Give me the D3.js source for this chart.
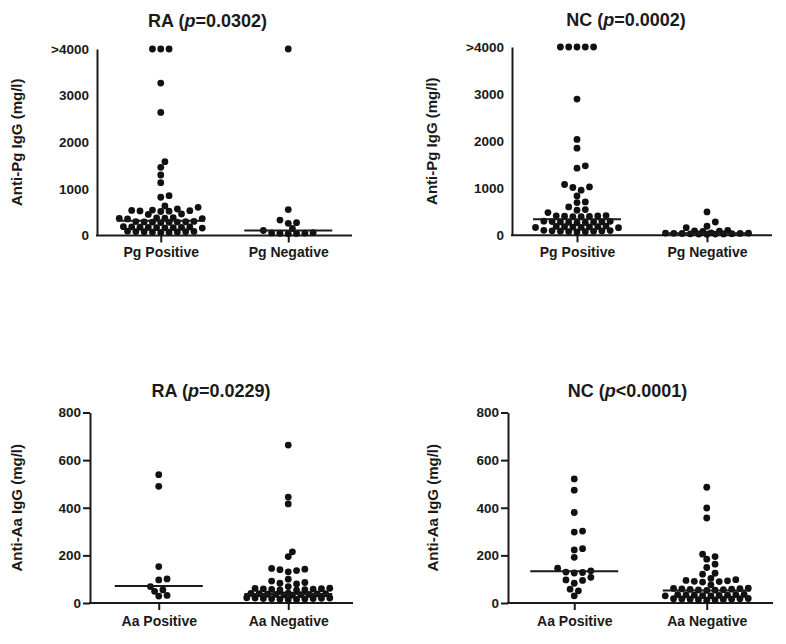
<!DOCTYPE html>
<html><head><meta charset="utf-8">
<script src="https://cdn.jsdelivr.net/npm/d3@7"></script>
<style>
body{margin:0;background:#fff}
svg{display:block}
text{font-family:"Liberation Sans",Arial,sans-serif;font-weight:bold;fill:#1a1a1a}
</style>
</head><body><svg id="c" width="786" height="644"></svg>
<script>
// ---------- data ----------
const pgCategories = ["Pg Positive", "Pg Negative"];
const aaCategories = ["Aa Positive", "Aa Negative"];
const pgTickValues = [0, 1000, 2000, 3000, 4000];
const pgTickLabels = ["0", "1000", "2000", "3000", ">4000"];
const aaTickValues = [0, 200, 400, 600, 800];
const aaTickLabels = ["0", "200", "400", "600", "800"];
const titles = ["RA", "NC", "RA", "NC"];
const pTexts = ["=0.0302", "=0.0002", "=0.0229", "<0.0001"];
const yLabels = ["Anti-Pg IgG (mg/l)", "Anti-Pg IgG (mg/l)", "Anti-Aa IgG (mg/l)", "Anti-Aa IgG (mg/l)"];

const raPgPositive = [4000,4000,4000,3270,2640,1583,1463,1298,1133,854,820,633,605,568,545,538,532,528,522,515,461,452,385,378,372,368,362,356,302,298,295,292,288,285,282,278,190,186,182,179,176,173,170,167,164,160,92,88,85,82,80,77,74,70,66];
const raPgNegative = [4000,556,330,276,262,150,107,62,56,52,48,44,40];
const ncPgPositive = [4000,4000,4000,4000,4000,2894,2036,1851,1475,1426,1079,1028,1015,958,836,709,695,602,547,532,483,418,414,410,406,402,398,394,300,296,292,288,284,280,276,272,268,195,190,186,182,178,174,170,166,162,105,100,96,92,88,84,80,76,72];
const ncPgNegative = [496,283,192,163,104,96,90,84,52,48,45,42,40,38,35,32,30,28,25,22];
const raAaPositive = [539,490,153,101,97,69,55,49,32,29];
const raAaNegative = [663,445,416,215,195,145,142,140,136,131,100,92,86,83,80,69,62,61,60,59,58,57,56,55,54,41,40,39,39,38,37,36,36,35,34,33,22,21,21,20,19,19,18,17,16,15,14];
const ncAaPositive = [521,474,380,302,298,228,223,192,146,135,130,128,126,108,97,95,83,58,51,30];
const ncAaNegative = [486,399,357,205,195,184,163,149,125,121,103,98,95,93,91,90,88,76,62,61,60,59,58,57,56,55,54,53,36,35,35,34,33,33,32,31,30,30,19,18,18,17,16,16,15,14,13,12];

const raPgMedians = [315, 105];
const ncPgMedians = [340, 42];
const raAaMedians = [71, 38];
const ncAaMedians = [133, 53];

// ---------- layout ----------
const panels = [
  {cats: pgCategories, groups: [raPgPositive, raPgNegative], med: raPgMedians, ticks: pgTickValues, tickLabels: pgTickLabels, max: 4000,
   L: {yAxisX: 97, xStart: 97, xEnd: 352, yTop: 49, yBottom: 235.5, titleX: 207.5, titleY: 27, labelX: 22, yTick: 0, yPad: 8, xPad: 4.5}},
  {cats: pgCategories, groups: [ncPgPositive, ncPgNegative], med: ncPgMedians, ticks: pgTickValues, tickLabels: pgTickLabels, max: 4000,
   L: {yAxisX: 512, xStart: 512, xEnd: 772, yTop: 47, yBottom: 235.3, titleX: 626, titleY: 26, labelX: 437, yTick: 0, yPad: 8, xPad: 4.5}},
  {cats: aaCategories, groups: [raAaPositive, raAaNegative], med: raAaMedians, ticks: aaTickValues, tickLabels: aaTickLabels, max: 800,
   L: {yAxisX: 90, xStart: 94, xEnd: 353, yTop: 412.5, yBottom: 603, titleX: 211, titleY: 397, labelX: 22, yTick: 7, yPad: 2, xPad: 6.5}},
  {cats: aaCategories, groups: [ncAaPositive, ncAaNegative], med: ncAaMedians, ticks: aaTickValues, tickLabels: aaTickLabels, max: 800,
   L: {yAxisX: 508, xStart: 508, xEnd: 773, yTop: 412.5, yBottom: 603, titleX: 627.5, titleY: 396.7, labelX: 438, yTick: 7, yPad: 2, xPad: 6.5}}
];

const svg = d3.select("#c");
const INK = "#1a1a1a";
const FONT = '"Liberation Sans",Arial,sans-serif';
const R = 3.4, D = 6.0, HALF = 4.15, MEDW = 44, KMAX = 10;

function swarm(values, yScale) {
  const pts = values.map(v => ({v, y: yScale(v)})).sort((a, b) => b.y - a.y);
  const placed = [];
  const cands = [0];
  for (let k = 1; k <= KMAX; k++) cands.push(k * HALF, -k * HALF);
  for (const p of pts) {
    let off = null, bestS = 0, bestMin = -1;
    for (const s of cands) {
      let mn = Infinity;
      for (const q of placed) {
        const dd = Math.hypot(q.dx - s, q.y - p.y);
        if (dd < mn) mn = dd;
      }
      if (mn >= D - 0.01) { off = s; break; }
      if (mn > bestMin + 0.3) { bestMin = mn; bestS = s; }
    }
    p.dx = off === null ? bestS : off;
    placed.push(p);
  }
  return pts;
}

panels.forEach((P, i) => {
  const L = P.L;
  const g = svg.append("g");
  const y = d3.scaleLinear().domain([0, P.max]).range([L.yBottom, L.yTop]);
  const x = d3.scalePoint().domain(P.cats).range([L.xStart, L.xEnd]).padding(0.5);

  // y axis
  const ya = g.append("g").attr("transform", `translate(${L.yAxisX},0)`)
    .call(d3.axisLeft(y).tickValues(P.ticks).tickFormat((d, j) => P.tickLabels[j])
      .tickSize(L.yTick).tickSizeOuter(0).tickPadding(L.yPad));
  ya.select(".domain").attr("stroke", INK).attr("stroke-width", 2);
  ya.selectAll(".tick line").attr("stroke", INK).attr("stroke-width", 2);
  ya.selectAll(".tick text").attr("font-size", 13.5).attr("fill", INK)
    .style("font-family", FONT).style("font-weight", "bold");

  // x axis
  const xa = g.append("g").attr("transform", `translate(0,${L.yBottom})`)
    .call(d3.axisBottom(x).tickSize(7).tickSizeOuter(0).tickPadding(L.xPad));
  xa.select(".domain").remove();
  xa.selectAll(".tick line").attr("stroke", INK).attr("stroke-width", 2);
  xa.selectAll(".tick text").attr("font-size", 14).attr("fill", INK)
    .style("font-family", FONT).style("font-weight", "bold");
  g.append("line").attr("x1", L.yAxisX - 1).attr("x2", L.xEnd)
    .attr("y1", L.yBottom).attr("y2", L.yBottom).attr("stroke", INK).attr("stroke-width", 2);

  // title
  const t = g.append("text").attr("x", L.titleX).attr("y", L.titleY)
    .attr("text-anchor", "middle").attr("font-size", 18);
  t.append("tspan").text(titles[i] + " (");
  t.append("tspan").attr("font-style", "italic").text("p");
  t.append("tspan").text(pTexts[i] + ")");

  // y label
  g.append("text").attr("transform", `translate(${L.labelX},${(L.yTop + L.yBottom) / 2}) rotate(-90)`)
    .attr("text-anchor", "middle").attr("font-size", 15).text(yLabels[i]);

  // dots + medians
  P.groups.forEach((vals, j) => {
    const cx = x(P.cats[j]);
    const pts = swarm(vals, y);
    g.append("g").selectAll("circle").data(pts).join("circle")
      .attr("cx", d => cx + d.dx).attr("cy", d => d.y).attr("r", R).attr("fill", "#111");
    g.append("line").attr("x1", cx - MEDW).attr("x2", cx + MEDW)
      .attr("y1", y(P.med[j])).attr("y2", y(P.med[j])).attr("stroke", INK).attr("stroke-width", 2);
  });
});
</script>
</body></html>
